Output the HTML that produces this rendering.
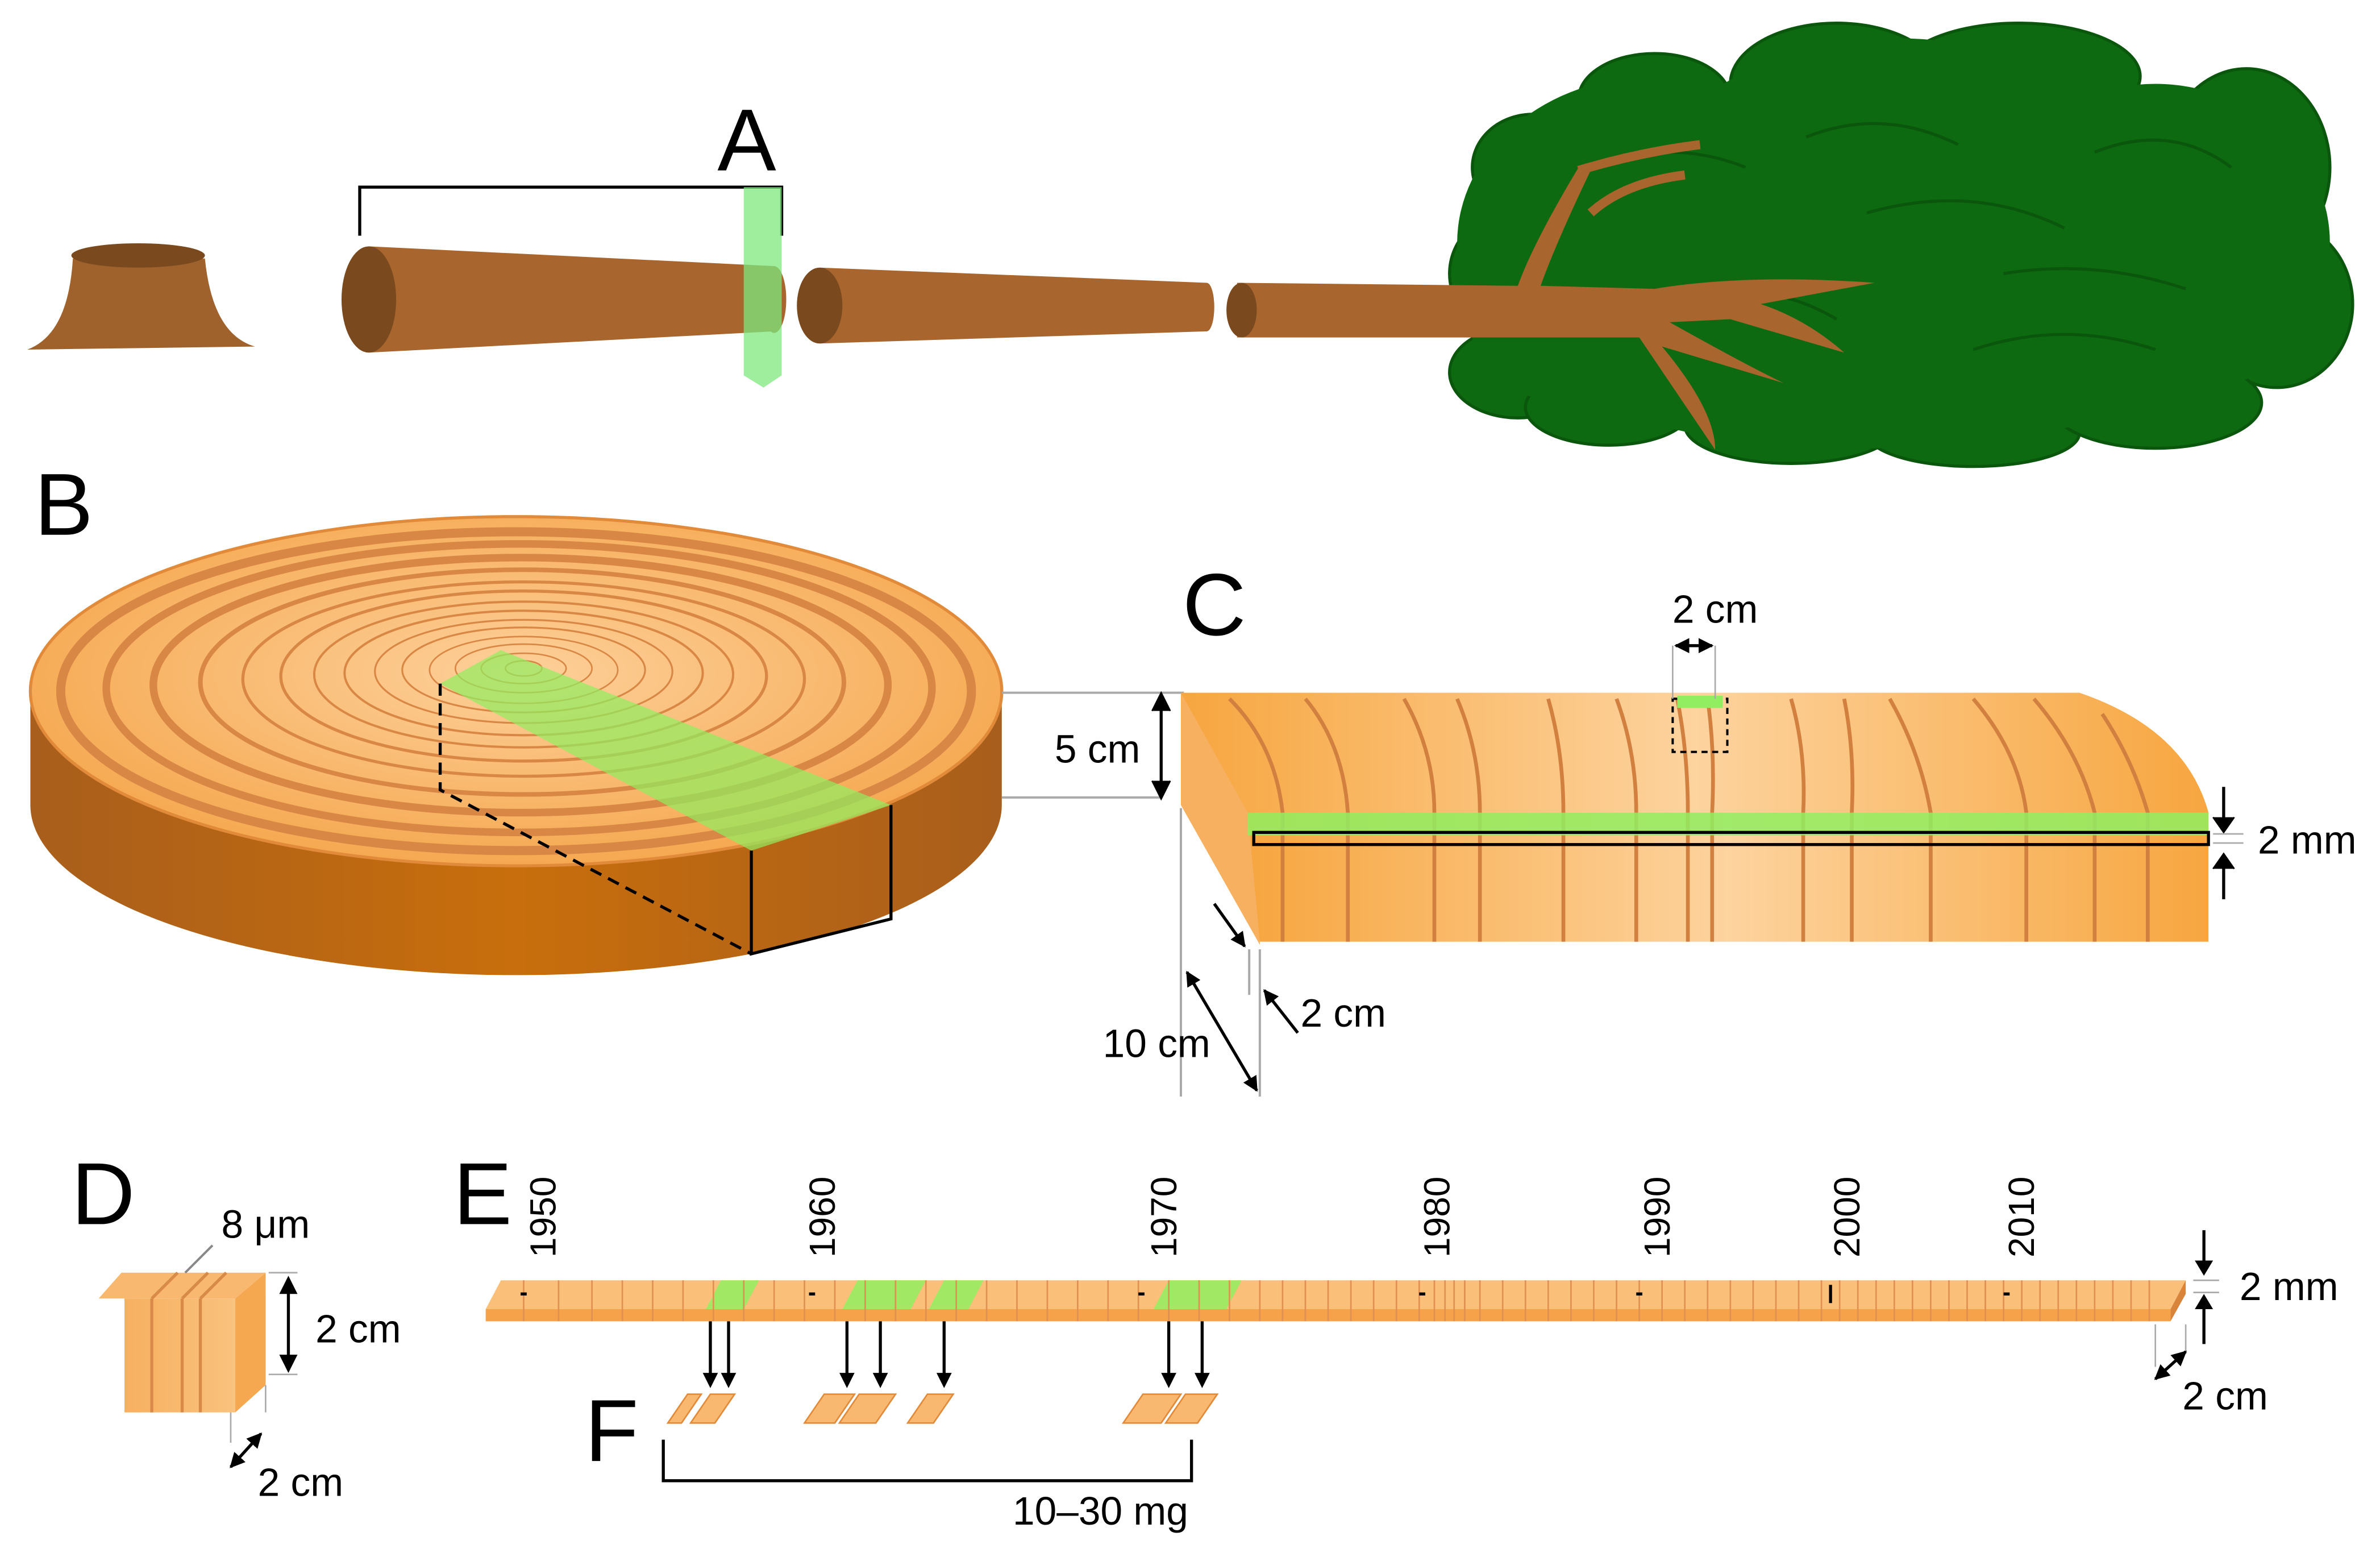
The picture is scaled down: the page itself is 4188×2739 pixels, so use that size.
<!DOCTYPE html>
<html><head><meta charset="utf-8"><style>
html,body{margin:0;padding:0;background:#fff}
svg{display:block}
text{font-family:"Liberation Sans",sans-serif}
</style></head><body>
<svg width="4188" height="2739" viewBox="0 0 1568 1025" xmlns="http://www.w3.org/2000/svg">
<defs>
<linearGradient id="side" x1="0" x2="1"><stop offset="0" stop-color="#a85e1c"/><stop offset="0.5" stop-color="#c86e0c"/><stop offset="1" stop-color="#a85e1c"/></linearGradient>
<radialGradient id="top" cx="0.5" cy="0.45" r="0.6"><stop offset="0" stop-color="#fdd09a"/><stop offset="1" stop-color="#f5a54a"/></radialGradient>
<linearGradient id="cf" x1="0" x2="1"><stop offset="0" stop-color="#f7a640"/><stop offset="0.5" stop-color="#fdd39e"/><stop offset="1" stop-color="#f7a640"/></linearGradient>
<linearGradient id="st" x1="0" x2="1"><stop offset="0" stop-color="#f7b060"/><stop offset="1" stop-color="#f9c27e"/></linearGradient>
<marker id="ah" viewBox="0 0 10 10" refX="9" refY="5" markerWidth="5" markerHeight="5" orient="auto-start-reverse"><path d="M0 0 L10 5 L0 10 Z" fill="#000"/></marker>
</defs>
<!-- A -->
<text x="492" y="112" font-size="58" text-anchor="middle">A</text>
<path d="M237 155 V123 H515 V155" fill="none" stroke="#000" stroke-width="2"/>
<path d="M18 230 Q45 220 48 170 L135 170 Q140 220 168 228 Z" fill="#a0622d"/>
<ellipse cx="91" cy="168" rx="44" ry="8" fill="#7a4a1e"/>
<path d="M243 162 L510 175 L510 218 L243 232 Z" fill="#a8652e"/>
<ellipse cx="243" cy="197" rx="18" ry="35" fill="#7a4a1e"/>
<ellipse cx="510" cy="197" rx="8" ry="22" fill="#a8652e"/>
<path d="M540 176 L795 186 L795 218 L540 226 Z" fill="#a8652e"/>
<ellipse cx="540" cy="201" rx="15" ry="25" fill="#7a4a1e"/>
<ellipse cx="795" cy="202" rx="5" ry="16" fill="#a8652e"/>
<!-- crown -->
<g fill="#0d6a10" stroke="#0a560c" stroke-width="2">
<ellipse cx="1090" cy="65" rx="50" ry="30"/>
<ellipse cx="1210" cy="55" rx="70" ry="40"/>
<ellipse cx="1330" cy="50" rx="80" ry="35"/>
<ellipse cx="1480" cy="110" rx="55" ry="65"/>
<ellipse cx="1500" cy="200" rx="50" ry="55"/>
<ellipse cx="1010" cy="110" rx="40" ry="35"/>
<ellipse cx="995" cy="180" rx="40" ry="40"/>
<ellipse cx="1000" cy="245" rx="45" ry="30"/>
<ellipse cx="1060" cy="268" rx="55" ry="25"/>
<ellipse cx="1180" cy="280" rx="70" ry="25"/>
<ellipse cx="1300" cy="285" rx="70" ry="22"/>
<ellipse cx="1420" cy="265" rx="70" ry="30"/>
</g>
<g fill="#0d6a10">
<ellipse cx="1090" cy="160" rx="130" ry="110"/>
<ellipse cx="1250" cy="140" rx="170" ry="115"/>
<ellipse cx="1420" cy="160" rx="115" ry="105"/>
<ellipse cx="1230" cy="240" rx="200" ry="55"/>
<ellipse cx="1060" cy="220" rx="90" ry="50"/>
</g>
<g fill="none" stroke="#0a560c" stroke-width="2">
<path d="M1050 110 Q1100 90 1150 110"/><path d="M1230 140 Q1300 120 1360 150"/><path d="M1100 200 Q1160 180 1210 210"/><path d="M1300 230 Q1360 210 1420 230"/><path d="M1380 100 Q1430 80 1470 110"/><path d="M1190 90 Q1240 70 1290 95"/><path d="M1320 180 Q1380 170 1440 190"/>
</g>
<path d="M815 186 L1000 188 Q1010 160 1040 110 L1048 112 Q1025 160 1015 188 L1090 190 Q1150 180 1235 186 L1160 200 Q1190 210 1215 232 L1140 210 L1100 212 Q1150 240 1175 252 L1095 228 Q1130 270 1130 296 L1080 222 L815 222 Z" fill="#a8652e"/>
<path d="M1040 112 Q1080 100 1120 95 M1048 140 Q1070 120 1110 115" stroke="#a8652e" stroke-width="6" fill="none"/>
<ellipse cx="818" cy="204" rx="10" ry="18" fill="#7a4a1e"/>
<path d="M490 123 H515 V247 L503 255 L490 247 Z" fill="#7de87d" opacity="0.75"/>
<!-- B -->
<text x="42" y="352" font-size="58" text-anchor="middle">B</text>
<path d="M20 458 V530 A320 112 0 0 0 660 530 V458 Z" fill="url(#side)"/>
<ellipse cx="340" cy="455" rx="320" ry="115" fill="url(#top)" stroke="#e08a3a" stroke-width="2"/>
<g fill="none" stroke="#d98745">
<ellipse cx="340" cy="455" rx="300" ry="105" stroke-width="6"/>
<ellipse cx="342" cy="453" rx="272" ry="95" stroke-width="5"/>
<ellipse cx="343" cy="451" rx="242" ry="84" stroke-width="5"/>
<ellipse cx="344" cy="449" rx="212" ry="74" stroke-width="3"/>
<ellipse cx="345" cy="447" rx="185" ry="64" stroke-width="2"/>
<ellipse cx="345" cy="445" rx="160" ry="56" stroke-width="2"/>
<ellipse cx="345" cy="444" rx="138" ry="48" stroke-width="1.5"/>
<ellipse cx="345" cy="443" rx="118" ry="41" stroke-width="1.5"/>
<ellipse cx="345" cy="442" rx="98" ry="34" stroke-width="1.2"/>
<ellipse cx="345" cy="441" rx="80" ry="28" stroke-width="1.2"/>
<ellipse cx="345" cy="441" rx="62" ry="22" stroke-width="1"/>
<ellipse cx="345" cy="440" rx="45" ry="16" stroke-width="1"/>
<ellipse cx="345" cy="440" rx="28" ry="10" stroke-width="1"/>
<ellipse cx="345" cy="440" rx="12" ry="5" stroke-width="1"/>
</g>
<path d="M290 450 L330 428 L587 530 L495 560 Z" fill="#90ee60" opacity="0.7"/>
<path d="M290 450 V520 L495 628" fill="none" stroke="#000" stroke-width="2" stroke-dasharray="8 5"/>
<path d="M495 560 V628 L587 605 V530" fill="none" stroke="#000" stroke-width="2"/>
<!-- C -->
<text x="800" y="418" font-size="58" text-anchor="middle">C</text>
<path d="M660 456 H780 M660 525 H765" stroke="#aaa" stroke-width="1.5"/>
<path d="M765 460 V522" stroke="#000" stroke-width="2"/>
<path d="M759 468 L765 456 L771 468 M759 514 L765 526 L771 514" fill="#000" stroke="#000"/>
<text x="723" y="502" font-size="26" text-anchor="middle">5 cm</text>
<path d="M778 456 L830 540 L830 622 L778 530 Z" fill="#f6b060"/>
<path d="M778 456 H1370 Q1440 480 1455 535 H822 Z" fill="url(#cf)"/>
<path d="M822 535 H1455 V620 H830 Z" fill="url(#cf)"/>
<g fill="none" stroke="#d28040" stroke-width="2.5">
<path d="M810 460 Q840 490 845 535 V620"/><path d="M860 460 Q885 490 888 535 V620"/><path d="M925 460 Q945 495 945 535 V620"/><path d="M960 460 Q975 495 975 535 V620"/><path d="M1020 460 Q1030 495 1030 535 V620"/><path d="M1065 460 Q1078 495 1078 535 V620"/><path d="M1105 460 Q1112 495 1112 535 V620"/><path d="M1125 460 Q1130 495 1128 535 V620"/><path d="M1180 460 Q1190 495 1188 535 V620"/><path d="M1215 460 Q1222 495 1220 535 V620"/><path d="M1245 460 Q1265 495 1272 535 V620"/><path d="M1300 460 Q1330 495 1335 535 V620"/><path d="M1340 460 Q1370 495 1380 535 V620"/><path d="M1385 470 Q1405 500 1415 535 V620"/>
</g>
<path d="M822 535 H1455 V550 H822 Z" fill="#90ee60" opacity="0.85"/>
<rect x="826" y="548" width="629" height="8" fill="none" stroke="#000" stroke-width="2"/>
<path d="M1102 460 H1138 V495 H1102 Z" fill="none" stroke="#000" stroke-width="1.5" stroke-dasharray="4 3"/>
<rect x="1105" y="458" width="30" height="8" fill="#90ee60"/>
<path d="M1102 425 V460 M1130 425 V460" stroke="#aaa"/>
<path d="M1104 425 H1128" stroke="#000" stroke-width="2" marker-start="url(#ah)" marker-end="url(#ah)"/>
<text x="1130" y="410" font-size="26" text-anchor="middle">2 cm</text>
<path d="M1465 518 V543 M1465 567 V592" stroke="#000" stroke-width="2"/>
<path d="M1458 538 L1465 548 L1472 538 M1458 572 L1465 562 L1472 572" fill="#000" stroke="#000"/>
<path d="M1458 549 H1478 M1458 555 H1478" stroke="#aaa"/>
<text x="1520" y="562" font-size="26" text-anchor="middle">2 mm</text>
<path d="M778 532 V722 M823 625 V655 M830 625 V722" stroke="#aaa" stroke-width="1.5"/>
<path d="M800 595 L820 623" stroke="#000" stroke-width="2" marker-end="url(#ah)"/>
<path d="M782 640 L828 718" stroke="#000" stroke-width="2" marker-start="url(#ah)" marker-end="url(#ah)"/>
<path d="M855 680 L833 652" stroke="#000" stroke-width="2" marker-end="url(#ah)"/>
<text x="885" y="676" font-size="26" text-anchor="middle">2 cm</text>
<text x="762" y="696" font-size="26" text-anchor="middle">10 cm</text>
<!-- D -->
<text x="68" y="806" font-size="58" text-anchor="middle">D</text>
<path d="M82 855 H155 V930 H82 Z" fill="url(#st)"/>
<path d="M155 855 L175 838 V912 L155 930 Z" fill="#f5a850"/>
<path d="M65 855 L80 838 H175 L155 855 Z" fill="#f9b870"/>
<g stroke="#d88a48" stroke-width="2"><path d="M100 855 V930 M120 855 V930 M132 855 V930"/><path d="M100 855 L117 838 M120 855 L137 838 M132 855 L149 838"/></g>
<path d="M122 838 L140 820" stroke="#888" stroke-width="1.5"/>
<text x="175" y="815" font-size="26" text-anchor="middle">8 μm</text>
<path d="M190 842 V902" stroke="#000" stroke-width="2"/>
<path d="M184 852 L190 840 L196 852 M184 892 L190 904 L196 892" fill="#000"/>
<path d="M177 838 H196 M177 905 H196" stroke="#aaa"/>
<text x="236" y="884" font-size="26" text-anchor="middle">2 cm</text>
<path d="M152 930 V950 M175 912 V930" stroke="#aaa"/>
<path d="M152 966 L172 944" stroke="#000" stroke-width="2" marker-start="url(#ah)" marker-end="url(#ah)"/>
<text x="198" y="985" font-size="26" text-anchor="middle">2 cm</text>
<!-- E -->
<text x="318" y="806" font-size="58" text-anchor="middle">E</text>
<path d="M320 862 L330 843 H1440 L1430 862 Z" fill="#fac07a"/>
<path d="M320 862 H1430 V870 H320 Z" fill="#f6a24a"/>
<path d="M1430 862 L1440 843 V852 L1430 870 Z" fill="#d8843a"/>
<path d="M465 862 L475 843 H500 L490 862 Z M555 862 L565 843 H610 L600 862 Z M612 862 L622 843 H648 L638 862 Z M760 862 L770 843 H818 L808 862 Z" fill="#90ee60" opacity="0.85"/>
<g stroke="#e09050" stroke-width="1" fill="none">
<path d="M345 843 V870 M368 843 V870 M390 843 V870 M410 843 V870 M430 843 V870 M450 843 V870 M470 843 V870 M490 843 V870 M510 843 V870 M530 843 V870 M550 843 V870 M570 843 V870 M590 843 V870 M610 843 V870 M630 843 V870 M650 843 V870 M670 843 V870 M690 843 V870 M710 843 V870 M730 843 V870 M750 843 V870 M770 843 V870 M790 843 V870 M810 843 V870 M830 843 V870 M845 843 V870 M860 843 V870 M875 843 V870 M890 843 V870 M905 843 V870 M920 843 V870 M935 843 V870 M945 843 V870 M952 843 V870 M958 843 V870 M965 843 V870 M975 843 V870 M990 843 V870 M1005 843 V870 M1020 843 V870 M1035 843 V870 M1050 843 V870 M1065 843 V870 M1080 843 V870 M1095 843 V870 M1110 843 V870 M1125 843 V870 M1140 843 V870 M1155 843 V870 M1170 843 V870 M1185 843 V870 M1200 843 V870 M1212 843 V870 M1224 843 V870 M1236 843 V870 M1248 843 V870 M1260 843 V870 M1272 843 V870 M1284 843 V870 M1296 843 V870 M1308 843 V870 M1320 843 V870 M1332 843 V870 M1344 843 V870 M1356 843 V870 M1368 843 V870 M1380 843 V870 M1392 843 V870 M1404 843 V870 M1416 843 V870"/>
</g>
<g fill="#000"><rect x="343" y="851" width="4" height="2"/><rect x="533" y="851" width="4" height="2"/><rect x="750" y="851" width="4" height="2"/><rect x="935" y="851" width="4" height="2"/><rect x="1078" y="851" width="4" height="2"/><rect x="1205" y="846" width="2" height="12"/><rect x="1320" y="851" width="4" height="2"/></g>
<g font-size="24">
<text transform="translate(366,828) rotate(-90)">1950</text>
<text transform="translate(550,828) rotate(-90)">1960</text>
<text transform="translate(775,828) rotate(-90)">1970</text>
<text transform="translate(955,828) rotate(-90)">1980</text>
<text transform="translate(1100,828) rotate(-90)">1990</text>
<text transform="translate(1225,828) rotate(-90)">2000</text>
<text transform="translate(1340,828) rotate(-90)">2010</text>
</g>
<path d="M1452 810 V835 M1452 858 V885" stroke="#000" stroke-width="2"/>
<path d="M1446 830 L1452 840 L1458 830 M1446 862 L1452 852 L1458 862" fill="#000"/>
<path d="M1445 843 H1462 M1445 851 H1462" stroke="#aaa"/>
<text x="1508" y="856" font-size="26" text-anchor="middle">2 mm</text>
<path d="M1420 872 V900 M1440 872 V890" stroke="#aaa"/>
<path d="M1420 908 L1440 890" stroke="#000" stroke-width="2" marker-start="url(#ah)" marker-end="url(#ah)"/>
<text x="1466" y="928" font-size="26" text-anchor="middle">2 cm</text>
<g stroke="#000" stroke-width="2"><path d="M468 870 V908 M480 870 V908 M558 870 V908 M580 870 V908 M622 870 V908 M770 870 V908 M792 870 V908"/></g>
<g fill="#000"><path d="M463 904 L468 914 L473 904Z M475 904 L480 914 L485 904Z M553 904 L558 914 L563 904Z M575 904 L580 914 L585 904Z M617 904 L622 914 L627 904Z M765 904 L770 914 L775 904Z M787 904 L792 914 L797 904Z"/></g>
<!-- F -->
<text x="403" y="962" font-size="58" text-anchor="middle">F</text>
<g fill="#f9b870" stroke="#e08a3a">
<path d="M440 937 L453 918 H462 L449 937Z M455 937 L468 918 H484 L471 937Z M530 937 L543 918 H563 L550 937Z M553 937 L566 918 H590 L577 937Z M598 937 L611 918 H628 L615 937Z M740 937 L753 918 H778 L765 937Z M768 937 L781 918 H802 L789 937Z"/>
</g>
<path d="M437 948 V975 H785 V948" fill="none" stroke="#000" stroke-width="2"/>
<text x="725" y="1004" font-size="26" text-anchor="middle">10–30 mg</text>
</svg>
</body></html>
